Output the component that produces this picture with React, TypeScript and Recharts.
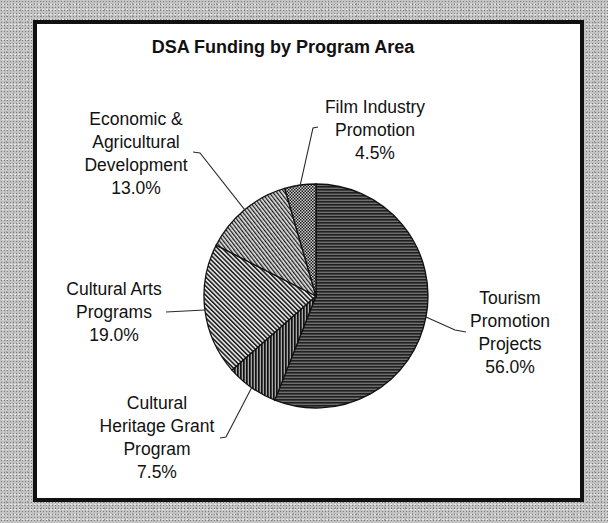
import React from 'react';
import { PieChart, Pie, Cell } from 'recharts';

// program areas, read clockwise from 12 o'clock
const categories = [
    'Tourism\nPromotion\nProjects',
    'Cultural\nHeritage Grant\nProgram',
    'Cultural Arts\nPrograms',
    'Economic &\nAgricultural\nDevelopment',
    'Film Industry\nPromotion',
];
const shares = [56.0, 7.5, 19.0, 13.0, 4.5];
const patternIds = ['pTourism', 'pHeritage', 'pArts', 'pEconomic', 'pFilm'];

const title = 'DSA Funding by Program Area';

// leader line elbow / end and first-line text centre, relative to the pie centre
const labelLayout = [
    { elbow: [139, 34], end: [150, 36], text: [194, 2] },
    { elbow: [-90, 141], end: [-96, 142], text: [-159, 107] },
    { elbow: [-150, 16], end: [-150, 16], text: [-202, -7] },
    { elbow: [-116, -143], end: [-123, -144], text: [-180, -177] },
    { elbow: [-3, -168], end: [2, -169], text: [59, -189] },
];

const RADIAN = Math.PI / 180;
const FONT = '"Liberation Sans", Arial, Helvetica, sans-serif';
const LINE_H = 23;

const data = categories.map((name, i) => ({ name, value: shares[i] }));

const renderLabel = (props: any) => {
    const { cx, cy, midAngle, outerRadius, index, value, name } = props;
    const lay = labelLayout[index];
    const sx = cx + outerRadius * Math.cos(-midAngle * RADIAN);
    const sy = cy + outerRadius * Math.sin(-midAngle * RADIAN);
    const pts = `${sx},${sy} ${cx + lay.elbow[0]},${cy + lay.elbow[1]} ${cx + lay.end[0]},${cy + lay.end[1]}`;
    const lines = [...String(name).split('\n'), `${Number(value).toFixed(1)}%`];
    const tx = cx + lay.text[0];
    const ty = cy + lay.text[1] + 6;
    return (
        <g key={`lbl-${index}`}>
            <polyline points={pts} fill="none" stroke="#2a2a2a" strokeWidth={1.1} />
            <text x={tx} y={ty} textAnchor="middle" fontSize={17.5} fontFamily={FONT} fill="#111">
                {lines.map((l, i) => (
                    <tspan key={i} x={tx} dy={i === 0 ? 0 : LINE_H}>{l}</tspan>
                ))}
            </text>
        </g>
    );
};

export default function App() {
    return (
        <div style={{
            position: 'absolute', left: 0, top: 0, width: 608, height: 523,
            backgroundColor: '#c2c2c2',
            backgroundImage: 'radial-gradient(#7a7a7a 0.7px, transparent 1px), radial-gradient(#e8e8e8 0.7px, transparent 1px), radial-gradient(#9a9a9a 0.6px, transparent 0.9px)',
            backgroundSize: '3px 3px, 4px 5px, 7px 6px',
            backgroundPosition: '0 0, 1px 2px, 3px 1px',
        }}>
            <div style={{
                position: 'absolute', left: 33, top: 20, width: 543, height: 474,
                border: '4px solid #111', background: '#fff',
            }} />
            <div style={{
                position: 'absolute', left: 0, top: 38, width: 566, textAlign: 'center',
                fontFamily: FONT, fontWeight: 'bold', fontSize: 18, lineHeight: '18px', color: '#111',
            }}>{title}</div>
            <div style={{ position: 'absolute', left: 0, top: 0 }}>
                <PieChart width={608} height={523} margin={{ top: 0, right: 0, bottom: 0, left: 0 }}>
                    <defs>
                        <pattern id="pTourism" patternUnits="userSpaceOnUse" width="4" height="3">
                            <rect width="4" height="3" fill="#6e6e6e" />
                            <rect width="4" height="1.6" fill="#202020" />
                        </pattern>
                        <pattern id="pHeritage" patternUnits="userSpaceOnUse" width="3" height="4">
                            <rect width="3" height="4" fill="#a8a8a8" />
                            <rect width="1.7" height="4" fill="#121212" />
                        </pattern>
                        <pattern id="pArts" patternUnits="userSpaceOnUse" width="3.2" height="6" patternTransform="rotate(-45)">
                            <rect width="3.2" height="6" fill="#e2e2e2" />
                            <rect width="1.5" height="6" fill="#1c1c1c" />
                        </pattern>
                        <pattern id="pEconomic" patternUnits="userSpaceOnUse" width="3" height="6" patternTransform="rotate(-38)">
                            <rect width="3" height="6" fill="#e6e6e6" />
                            <rect width="1.3" height="6" fill="#1c1c1c" />
                        </pattern>
                        <pattern id="pFilm" patternUnits="userSpaceOnUse" width="3" height="3">
                            <rect width="3" height="3" fill="#d0d0d0" />
                            <rect width="1.5" height="1.5" fill="#1a1a1a" />
                            <rect x="1.5" y="1.5" width="1.5" height="1.5" fill="#1a1a1a" />
                        </pattern>
                    </defs>
                    <Pie
                        data={data}
                        dataKey="value"
                        nameKey="name"
                        cx={316}
                        cy={296}
                        outerRadius={112}
                        startAngle={90}
                        endAngle={-270}
                        stroke="#111"
                        strokeWidth={1.3}
                        label={renderLabel}
                        labelLine={false}
                        isAnimationActive={false}
                    >
                        {data.map((d, i) => (
                            <Cell key={d.name} fill={`url(#${patternIds[i]})`} />
                        ))}
                    </Pie>
                </PieChart>
            </div>
        </div>
    );
}
